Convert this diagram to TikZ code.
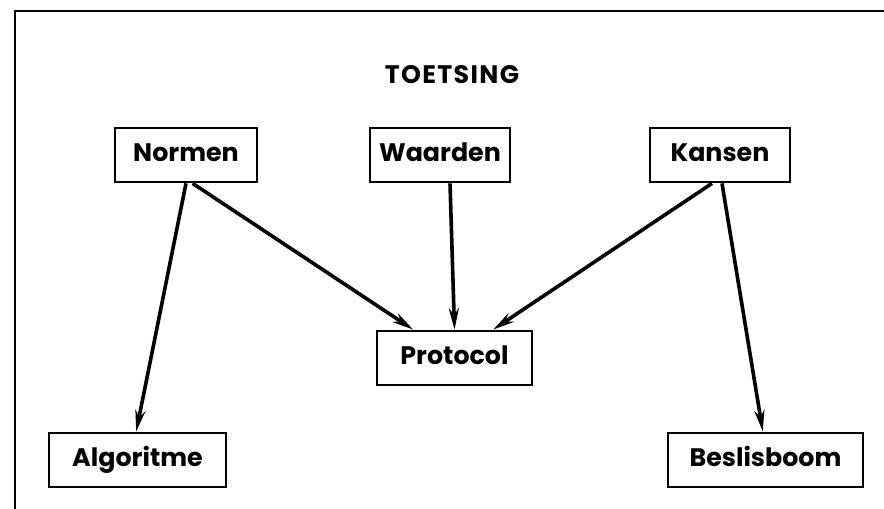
\documentclass[tikz,border=0pt]{standalone}
\usepackage{fontspec}
\setmainfont{Poppins}
\usetikzlibrary{arrows.meta}

\tikzset{
  blok/.style={draw, line width=1.6pt, minimum width=#1, minimum height=41pt, inner sep=0pt,
    text height=14pt, text depth=4pt, font=\fontsize{19}{22}\selectfont\bfseries},
  blok/.default=106pt,
  pijl/.style={line width=2.7pt, -{Stealth[length=16pt,width=7.5pt]}}
}

\begin{document}
\begin{tikzpicture}[x=0.75pt,y=0.75pt,yscale=-1,xscale=1]
\useasboundingbox (0,0) rectangle (884,509);

% kader (boven en links)
\draw [line width=0.9pt] (884,11) -- (15,11) -- (15,509);

% titel
\node (titel) at (452,75) {\fontsize{19}{22}\selectfont\bfseries T\kern1pt O\kern1pt E\kern1pt T\kern1pt S\kern1pt I\kern1pt N\kern1pt G};

% blokken
\node [blok=106.5pt] (normen) at (186,155) {Normen};
\node [blok=105pt] (waarden) at (440,155) {Waarden};
\node [blok=105pt] (kansen) at (720,155) {Kansen};
\node [blok=116pt] (protocol) at (454.5,358) {Protocol};
\node [blok=133pt] (algoritme) at (137.5,460) {Algoritme};
\node [blok=146pt] (beslisboom) at (765.5,460) {Beslisboom};

% pijlen
\draw [pijl] (normen.south) -- ([xshift=-1pt]algoritme.north);
\draw [pijl] ([xshift=5pt]normen.south) -- ([xshift=-31pt]protocol.north);
\draw [pijl] ([xshift=7.5pt]waarden.south) -- (protocol.north);
\draw [pijl] ([xshift=-6pt]kansen.south) -- ([xshift=29pt]protocol.north);
\draw [pijl] ([xshift=1.5pt]kansen.south) -- ([xshift=-2pt]beslisboom.north);

\end{tikzpicture}
\end{document}
